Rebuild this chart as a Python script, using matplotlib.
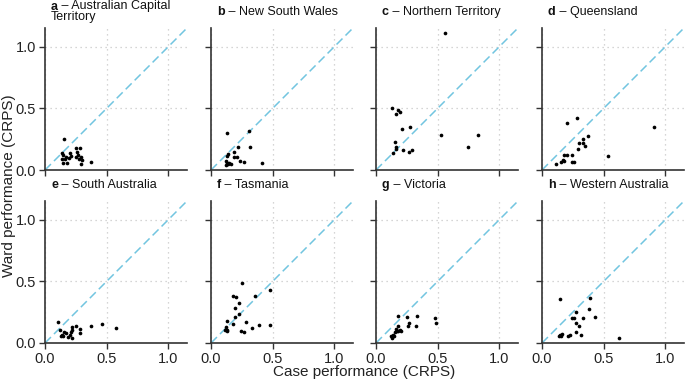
import matplotlib.pyplot as plt
from matplotlib.transforms import offset_copy

plt.rcParams["font.family"] = ["Liberation Sans", "DejaVu Sans"]

# panel letters and state names
letters = ["a", "b", "c", "d", "e", "f", "g", "h"]
states = ["Australian Capital\nTerritory", "New South Wales", "Northern Territory",
          "Queensland", "South Australia", "Tasmania", "Victoria", "Western Australia"]

# case CRPS (x) and ward CRPS (y)
case_act = [0.156, 0.134, 0.148, 0.169, 0.20, 0.21, 0.255, 0.282, 0.26, 0.27, 0.288,
            0.296, 0.376, 0.148, 0.175, 0.134, 0.16, 0.196, 0.25, 0.277, 0.29]
ward_act = [0.255, 0.134, 0.121, 0.108, 0.14, 0.113, 0.18, 0.18, 0.148, 0.121, 0.108,
            0.081, 0.067, 0.059, 0.054, 0.086, 0.086, 0.094, 0.108, 0.086, 0.048]

case_nsw = [0.132, 0.306, 0.22, 0.315, 0.19, 0.134, 0.126, 0.185, 0.207, 0.234, 0.27,
            0.41, 0.118, 0.126, 0.148, 0.121, 0.14, 0.16]
ward_nsw = [0.30, 0.317, 0.19, 0.188, 0.148, 0.129, 0.113, 0.108, 0.102, 0.075, 0.067,
            0.054, 0.075, 0.054, 0.059, 0.043, 0.048, 0.048]

case_nt = [0.556, 0.129, 0.18, 0.161, 0.194, 0.274, 0.212, 0.53, 0.83, 0.742, 0.153,
           0.159, 0.161, 0.14, 0.215, 0.269, 0.29]
ward_nt = [1.107, 0.503, 0.484, 0.457, 0.47, 0.349, 0.333, 0.285, 0.285, 0.188, 0.228,
           0.188, 0.172, 0.134, 0.159, 0.142, 0.164]

case_qld = [0.282, 0.199, 0.906, 0.371, 0.328, 0.298, 0.331, 0.349, 0.293, 0.18, 0.202,
            0.247, 0.538, 0.167, 0.156, 0.175, 0.116, 0.242, 0.261]
ward_qld = [0.425, 0.379, 0.349, 0.274, 0.253, 0.22, 0.22, 0.194, 0.167, 0.124, 0.124,
            0.124, 0.113, 0.081, 0.067, 0.07, 0.048, 0.062, 0.062]

case_sa = [0.108, 0.121, 0.25, 0.215, 0.376, 0.465, 0.578, 0.28, 0.285, 0.153, 0.169,
           0.134, 0.129, 0.148, 0.202, 0.21, 0.215, 0.215, 0.188]
ward_sa = [0.172, 0.108, 0.14, 0.132, 0.134, 0.153, 0.121, 0.113, 0.078, 0.086, 0.081,
           0.067, 0.054, 0.059, 0.067, 0.086, 0.108, 0.04, 0.051]

case_tas = [0.255, 0.481, 0.18, 0.202, 0.358, 0.228, 0.196, 0.223, 0.191, 0.132, 0.285,
            0.18, 0.39, 0.476, 0.333, 0.121, 0.126, 0.116, 0.132, 0.242, 0.266]
ward_tas = [0.489, 0.427, 0.379, 0.371, 0.379, 0.325, 0.28, 0.234, 0.207, 0.175, 0.172,
            0.153, 0.148, 0.148, 0.118, 0.126, 0.105, 0.105, 0.094, 0.099, 0.089]

case_vic = [0.18, 0.255, 0.328, 0.476, 0.489, 0.269, 0.261, 0.323, 0.175, 0.194, 0.18,
            0.161, 0.153, 0.134, 0.126, 0.121, 0.145, 0.167, 0.199]
ward_vic = [0.22, 0.207, 0.22, 0.204, 0.159, 0.161, 0.134, 0.14, 0.14, 0.105, 0.10,
            0.113, 0.086, 0.067, 0.038, 0.054, 0.056, 0.094, 0.094]

case_wa = [0.142, 0.39, 0.384, 0.274, 0.242, 0.263, 0.331, 0.433, 0.274, 0.296, 0.277,
           0.315, 0.626, 0.223, 0.21, 0.161, 0.148, 0.134, 0.156]
ward_wa = [0.36, 0.366, 0.277, 0.255, 0.199, 0.199, 0.204, 0.212, 0.161, 0.14, 0.086,
           0.065, 0.038, 0.065, 0.059, 0.075, 0.067, 0.054, 0.059]

case_all = [case_act, case_nsw, case_nt, case_qld, case_sa, case_tas, case_vic, case_wa]
ward_all = [ward_act, ward_nsw, ward_nt, ward_qld, ward_sa, ward_tas, ward_vic, ward_wa]

LIM = 1.15
ticks = [0.0, 0.5, 1.0]
dark = "#333333"

fig = plt.figure(figsize=(6.85, 3.8), dpi=100)

W, H = 685, 380
lefts = [45, 211, 376, 542]
tops = [28, 201]
size = 142
title_fs = 9

for i in range(8):
    r, c = divmod(i, 4)
    ax = fig.add_axes([lefts[c] / W, 1 - (tops[r] + size) / H, size / W, size / H])
    ax.set_xlim(0, LIM)
    ax.set_ylim(0, LIM)
    ax.set_xticks(ticks)
    ax.set_yticks(ticks)
    ax.grid(True, linestyle=(0, (1, 3)), color="#c8c8c8", linewidth=0.9)
    ax.set_axisbelow(True)
    ax.plot([0, LIM], [0, LIM], color="#72C5E0", lw=1.1, dashes=(5.5, 2.8), zorder=2)
    ax.scatter(case_all[i], ward_all[i], s=7, color="black", linewidths=0, zorder=3)

    for s in ["top", "right"]:
        ax.spines[s].set_visible(False)
    for s in ["left", "bottom"]:
        ax.spines[s].set_color(dark)
        ax.spines[s].set_linewidth(1.2)
    ax.tick_params(length=4, width=1, color=dark, labelsize=10.5,
                   labelcolor="#222222", pad=2.5)
    ax.set_xticklabels(["0.0", "0.5", "1.0"] if r == 1 else [])
    ax.set_yticklabels(["0.0", "0.5", "1.0"] if c == 0 else [])

    # panel title: bold letter + state name
    lines = states[i].split("\n")
    if len(lines) == 1:
        ys = [10]
    else:
        ys = [15.5, 5]
    tr = offset_copy(ax.transAxes, fig=fig, x=6, y=ys[0], units="dots")
    t = ax.text(0, 1, letters[i], transform=tr, fontsize=title_fs, fontweight="bold",
                ha="left", va="bottom", color="#111111")
    ax.annotate(" – " + lines[0], xy=(1, 0), xycoords=t, fontsize=title_fs,
                ha="left", va="bottom", color="#111111")
    for extra, yy in zip(lines[1:], ys[1:]):
        tr2 = offset_copy(ax.transAxes, fig=fig, x=6, y=yy, units="dots")
        ax.text(0, 1, extra, transform=tr2, fontsize=title_fs, ha="left", va="bottom",
                color="#111111")

fig.text(9 / W, 1 - 186 / H, "Ward performance (CRPS)", rotation=90,
         ha="center", va="center", fontsize=11, color="#222222")
fig.text(364 / W, 1 - 372 / H, "Case performance (CRPS)",
         ha="center", va="center", fontsize=11, color="#222222")

fig.savefig("out.png", dpi=100)
